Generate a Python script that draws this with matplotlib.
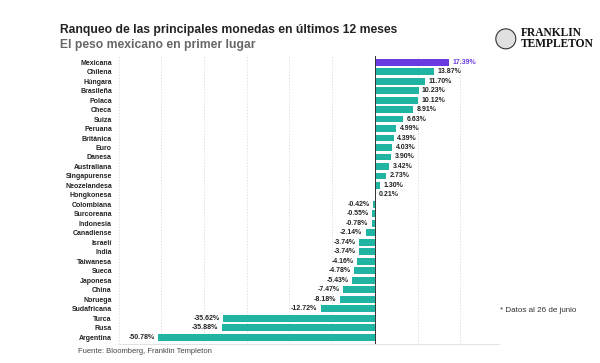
import matplotlib
matplotlib.use("Agg")
import matplotlib.pyplot as plt
from matplotlib.patches import Ellipse

plt.rcParams["font.family"] = ["Liberation Sans", "DejaVu Sans"]

# datos
monedas = ["Mexicana", "Chilena", "Húngara", "Brasileña", "Polaca", "Checa", "Suiza",
           "Peruana", "Británica", "Euro", "Danesa", "Australiana", "Singapurense",
           "Neozelandesa", "Hongkonesa", "Colombiana", "Surcoreana", "Indonesia",
           "Canadiense", "Israelí", "India", "Taiwanesa", "Sueca", "Japonesa", "China",
           "Noruega", "Sudafricana", "Turca", "Rusa", "Argentina"]
valores = [17.39, 13.87, 11.70, 10.23, 10.12, 8.91, 6.63, 4.99, 4.39, 4.03, 3.90, 3.42,
           2.73, 1.30, 0.21, -0.42, -0.55, -0.78, -2.14, -3.74, -3.74, -4.16, -4.78,
           -5.43, -7.47, -8.18, -12.72, -35.62, -35.88, -50.78]

TEAL = "#1fb5a2"
PURPLE = "#6a3be0"

fig = plt.figure(figsize=(6, 3.63), dpi=100)
ax = fig.add_axes([0.198, 0.053, 0.633, 0.794])

ypos = list(range(len(monedas)))
colores = [PURPLE if m == "Mexicana" else TEAL for m in monedas]
ax.barh(ypos, valores, height=0.72, color=colores, zorder=3)

for y, v, m in zip(ypos, valores, monedas):
    txt = "%.2f%%" % v
    col = PURPLE if m == "Mexicana" else "#222222"
    if v >= 0:
        ax.text(v + 0.8, y, txt, va="center", ha="left", fontsize=5,
                fontweight="bold", color=col, zorder=4)
    else:
        ax.text(v - 0.8, y, txt, va="center", ha="right", fontsize=5,
                fontweight="bold", color=col, zorder=4)

ax.set_xlim(-60, 29)
ax.set_ylim(len(monedas) - 0.3, -0.7)
ax.set_yticks(ypos)
ax.set_yticklabels(monedas, fontsize=5, fontweight="bold", color="#222222")
ax.set_xticks(range(-60, 30, 10))
ax.tick_params(axis="x", length=0, labelbottom=False)
ax.tick_params(axis="y", length=0, pad=5)
ax.grid(axis="x", color="#d8d8d8", linestyle=(0, (1.5, 2)), linewidth=0.6, zorder=0)
for s in ["top", "right", "left"]:
    ax.spines[s].set_visible(False)
ax.spines["bottom"].set_color("#dddddd")
ax.spines["bottom"].set_linewidth(0.6)
ax.axvline(0, color="#333333", linewidth=0.7, zorder=5)

fig.text(0.1, 0.917, "Ranqueo de las principales monedas en últimos 12 meses",
         fontsize=8.7, color="#222222", fontweight="bold", va="center")
fig.text(0.1, 0.876, "El peso mexicano en primer lugar", fontsize=8.7,
         color="#666666", fontweight="bold", va="center")

fig.text(0.13, 0.028, "Fuente: Bloomberg, Franklin Templeton", fontsize=5.5,
         color="#444444")
fig.text(0.833, 0.14, "* Datos al 26 de junio", fontsize=5.8, color="#333333")

# logo
fig.text(0.868, 0.893, "FRANKLIN\nTEMPLETON", fontsize=8.3, family="Liberation Serif",
         fontweight="bold", color="#111111", linespacing=0.9, va="center")
fig.patches.append(Ellipse((0.843, 0.893), 20 / 600, 20 / 363, transform=fig.transFigure,
                           facecolor="#e0e0e0", edgecolor="#333333", linewidth=0.8))

fig.savefig("out.png", dpi=100)
